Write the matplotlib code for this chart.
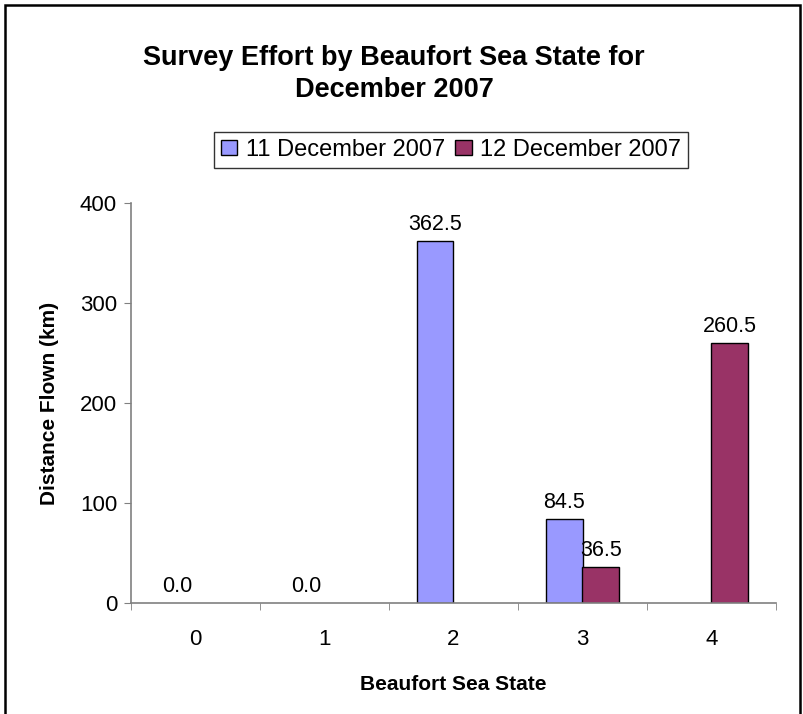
import numpy as np
import matplotlib
matplotlib.use("Agg")
import matplotlib.pyplot as plt
from matplotlib.patches import Rectangle, Patch
from matplotlib.ticker import FixedLocator

plt.rcParams['font.family'] = ['Liberation Sans', 'DejaVu Sans']

categories = ["0", "1", "2", "3", "4"]
dec11 = [0.0, 0.0, 362.5, 84.5, np.nan]
dec12 = [np.nan, np.nan, np.nan, 36.5, 260.5]
series_names = ["11 December 2007", "12 December 2007"]
colors = ["#9999FF", "#993366"]

fig = plt.figure(figsize=(8.04, 7.14), dpi=100)
ax = fig.add_axes([131 / 804, 1 - 603 / 714, 645 / 804, 400 / 714])

x = np.arange(len(categories))
w = 1 / 3.5
for vals, off, c, name in zip([dec11, dec12], [-w / 2, w / 2], colors, series_names):
    b = ax.bar(x + off, vals, w, color=c, edgecolor="black", linewidth=1.0, label=name)
    for rect, xi, v in zip(b, x, vals):
        if not np.isnan(v):
            ax.text(xi + off, v + 6, "%.1f" % v, ha="center", va="bottom", fontsize=15.5)
            if v == 0:
                rect.set_linewidth(0)

ax.set_xlim(-0.5, len(categories) - 0.5)
ax.set_ylim(0, 400)
ax.set_yticks([0, 100, 200, 300, 400])
ax.set_xticks(x)
ax.set_xticklabels(categories)
ax.xaxis.set_minor_locator(FixedLocator(np.arange(-0.5, len(categories), 1)))
ax.tick_params(axis="x", which="major", length=0, pad=19, labelsize=16)
ax.tick_params(axis="x", which="minor", length=5, color="#808080", direction="out")
ax.tick_params(axis="y", length=5, color="#808080", direction="out", labelsize=16, pad=5)

for s in ["top", "right"]:
    ax.spines[s].set_visible(False)
for s in ["left", "bottom"]:
    ax.spines[s].set_color("#808080")
    ax.spines[s].set_linewidth(1.2)

ax.set_xlabel("Beaufort Sea State", fontsize=15, fontweight="bold", labelpad=18)
ax.set_ylabel("Distance Flown (km)", fontsize=15, fontweight="bold", labelpad=15)

fig.text(394 / 804, 1 - 74 / 714, "Survey Effort by Beaufort Sea State for\nDecember 2007",
         ha="center", va="center", fontsize=19.5, fontweight="bold", linespacing=1.3)

handles = [Patch(facecolor=c, edgecolor="black", linewidth=1.0) for c in colors]
leg = fig.legend(handles=handles, labels=series_names, loc="center",
                 bbox_to_anchor=(451 / 804, 1 - 150 / 714), ncol=2, frameon=True,
                 fancybox=False, edgecolor="black", fontsize=17, handlelength=0.7,
                 handleheight=0.6, handletextpad=0.35, columnspacing=0.45, borderpad=0.3,
                 borderaxespad=0)
leg.get_frame().set_linewidth(1.0)

fig.patches.append(Rectangle((5 / 804, -0.05), 795 / 804, 1.05 - 5 / 714, transform=fig.transFigure,
                             fill=False, edgecolor="black", linewidth=1.8))

fig.savefig("out.png", dpi=100)
